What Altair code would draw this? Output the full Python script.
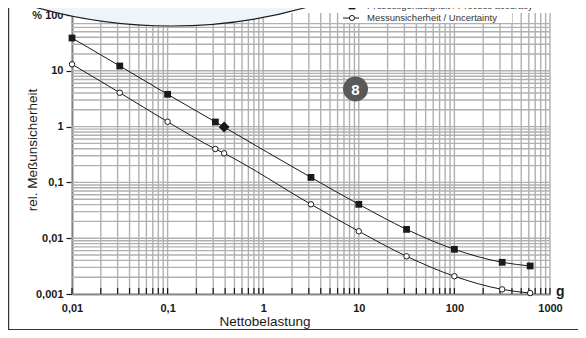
import altair as alt
import pandas as pd

# ---- data ----
load_acc = [0.01, 0.0316, 0.1, 0.316, 0.39, 3.16, 10, 31.6, 100, 316, 620]
accuracy = [38.7, 12.2, 3.79, 1.21, 0.98, 0.123, 0.0405, 0.0144, 0.00632, 0.0037, 0.00318]
acc_marker = ["square", "square", "square", "square", "diamond", "square", "square",
              "square", "square", "square", "square"]

load_unc = [0.01, 0.0316, 0.1, 0.316, 0.39, 3.16, 10, 31.6, 100, 316, 620]
uncertainty = [13.1, 4.05, 1.22, 0.397, 0.332, 0.0405, 0.0133, 0.00474, 0.00208, 0.00121, 0.00104]

x_ticks = [0.01, 0.1, 1, 10, 100, 1000]
y_ticks = [0.001, 0.01, 0.1, 1, 10, 100]
x_grid = [m * 10.0 ** e for e in range(-2, 3) for m in range(1, 10)] + [1000]
y_grid = [m * 10.0 ** e for e in range(-3, 2) for m in range(1, 10)]
y_grid = [v for v in y_grid if v <= 70]

legend_labels = ["Prozessgenauigkeit / Process accuracy", "Messunsicherheit / Uncertainty"]
x_title = "Nettobelastung"
y_title = "rel. Meßunsicherheit"
unit_label = "g"
badge_label = "8"

FONT = "Liberation Sans"
GRID = "#b0b0b0"
INK = "#1a1a1a"
BLUE = "#edf4fa"

W, H = 478, 279

xs = alt.Scale(type="log", domain=[0.01, 1000], nice=False)
ys = alt.Scale(type="log", domain=[0.001, 100], nice=False)

xaxis = alt.Axis(
    values=x_ticks, labelExpr="replace(toString(datum.value), '.', ',')",
    ticks=False, grid=False, domainColor=INK, domainWidth=1.5, labelPadding=8,
    labelFlush=False, labelOverlap=False,
    labelFont=FONT, labelFontSize=11, labelFontWeight="bold", labelColor=INK, title=None)
yaxis = alt.Axis(
    values=y_ticks,
    labelExpr="datum.value >= 100 ? '% 100' : replace(toString(datum.value), '.', ',')",
    tickSize=6, tickColor=INK, tickWidth=1.2, grid=False, domainColor=INK, domainWidth=1.5,
    labelFlush=False, labelOverlap=False,
    labelPadding=3, labelFont=FONT, labelFontSize=11, labelFontWeight="bold",
    labelColor=INK, title=None)


def X(f):
    return alt.X(f, scale=xs, axis=xaxis)


def Y(f):
    return alt.Y(f, scale=ys, axis=yaxis)


one = pd.DataFrame({"k": [0]})

vgrid = alt.Chart(pd.DataFrame({"v": x_grid})).mark_rule(color=GRID, strokeWidth=1.4).encode(
    x=X("v:Q"), y=alt.value(-2), y2=alt.value(H))

hgrid = alt.Chart(pd.DataFrame({"v": y_grid})).mark_rule(color=GRID, strokeWidth=1.4).encode(
    y=Y("v:Q"), x=alt.value(0), x2=alt.value(W))

xminor = alt.Chart(pd.DataFrame({"v": x_grid})).mark_rule(color=INK, strokeWidth=1.2).encode(
    x=X("v:Q"), y=alt.value(H - 6), y2=alt.value(H))

df_acc = pd.DataFrame({"x": load_acc, "y": accuracy, "m": acc_marker})
df_unc = pd.DataFrame({"x": load_unc, "y": uncertainty})

acc_line = alt.Chart(df_acc).mark_line(color=INK, strokeWidth=1, interpolate="monotone").encode(
    x=X("x:Q"), y=Y("y:Q"))
unc_line = alt.Chart(df_unc).mark_line(color=INK, strokeWidth=1, interpolate="monotone").encode(
    x=X("x:Q"), y=Y("y:Q"))

acc_sq = alt.Chart(df_acc).transform_filter("datum.m == 'square'").mark_point(
    shape="square", filled=True, color=INK, size=46, opacity=1).encode(x=X("x:Q"), y=Y("y:Q"))
acc_dia = alt.Chart(df_acc).transform_filter("datum.m == 'diamond'").mark_point(
    shape="diamond", filled=True, color=INK, size=120, opacity=1).encode(x=X("x:Q"), y=Y("y:Q"))
unc_pt = alt.Chart(df_unc).mark_point(
    shape="circle", filled=True, fill="white", stroke=INK, strokeWidth=1, size=30, opacity=1).encode(
    x=X("x:Q"), y=Y("y:Q"))

# decorative lens at the top
deco = alt.Chart(one).mark_point(shape="circle", filled=True, fill=BLUE, stroke=INK,
                                 strokeWidth=1.2, size=998 ** 2, opacity=1).encode(
    x=alt.value(99), y=alt.value(-488))

# legend (row positions in pixels)
leg_box = alt.Chart(one).mark_rect(color="white").encode(
    x=alt.value(268), x2=alt.value(440), y=alt.value(-10), y2=alt.value(8))
legend_layers = []
for label, yy, shape in [(legend_labels[0], -9, "square"), (legend_labels[1], 3, "circle")]:
    legend_layers.append(alt.Chart(one).mark_rule(color=INK, strokeWidth=1).encode(
        x=alt.value(271), x2=alt.value(287), y=alt.value(yy)))
    if shape == "square":
        legend_layers.append(alt.Chart(one).mark_point(
            shape="square", filled=True, color=INK, size=46, opacity=1).encode(
            x=alt.value(280), y=alt.value(yy)))
    else:
        legend_layers.append(alt.Chart(one).mark_point(
            shape="circle", filled=True, fill="white", stroke=INK, strokeWidth=1, size=26,
            opacity=1).encode(x=alt.value(280), y=alt.value(yy)))
    legend_layers.append(alt.Chart(pd.DataFrame({"t": [label]})).mark_text(
        align="left", baseline="middle", font=FONT, fontSize=9.5, color="#333333").encode(
        x=alt.value(295), y=alt.value(yy), text="t:N"))

# badge
badge = alt.Chart(one).mark_point(shape="circle", filled=True, color="#58595b",
                                  size=625, opacity=1).encode(x=alt.value(283.5), y=alt.value(74))
badge_t = alt.Chart(pd.DataFrame({"t": [badge_label]})).mark_text(
    font=FONT, fontSize=15, fontWeight="bold", color="white", baseline="middle").encode(
    x=alt.value(283.5), y=alt.value(75), text="t:N")

# titles
xt = alt.Chart(pd.DataFrame({"t": [x_title]})).mark_text(
    font=FONT, fontSize=13.5, color=INK, baseline="middle").encode(
    x=alt.value(193), y=alt.value(307), text="t:N")
yt = alt.Chart(pd.DataFrame({"t": [y_title]})).mark_text(
    font=FONT, fontSize=13.5, color=INK, baseline="middle", angle=270).encode(
    x=alt.value(-39), y=alt.value(135), text="t:N")
gt = alt.Chart(pd.DataFrame({"t": [unit_label]})).mark_text(
    font=FONT, fontSize=14, fontWeight="bold", color=INK, baseline="middle", align="left").encode(
    x=alt.value(484), y=alt.value(277), text="t:N")

# panel border
bl = alt.Chart(one).mark_rule(color="#333333", strokeWidth=1.2).encode(
    x=alt.value(-63.4), y=alt.value(-8), y2=alt.value(314.5))
bb = alt.Chart(one).mark_rule(color="#333333", strokeWidth=1.2).encode(
    y=alt.value(314.5), x=alt.value(-64), x2=alt.value(510))

chart = alt.layer(
    vgrid, hgrid, xminor, acc_line, unc_line, acc_sq, acc_dia, unc_pt,
    deco, leg_box, *legend_layers, badge, badge_t, xt, yt, gt, bl, bb,
).properties(
    width=W, height=H,
    autosize=alt.AutoSizeParams(type="none"),
    padding={"left": 64, "top": 7, "right": 28, "bottom": 36},
    background="white",
).configure_view(stroke=None)

chart.save("out.html", embed_options={"renderer": "svg", "actions": False})
